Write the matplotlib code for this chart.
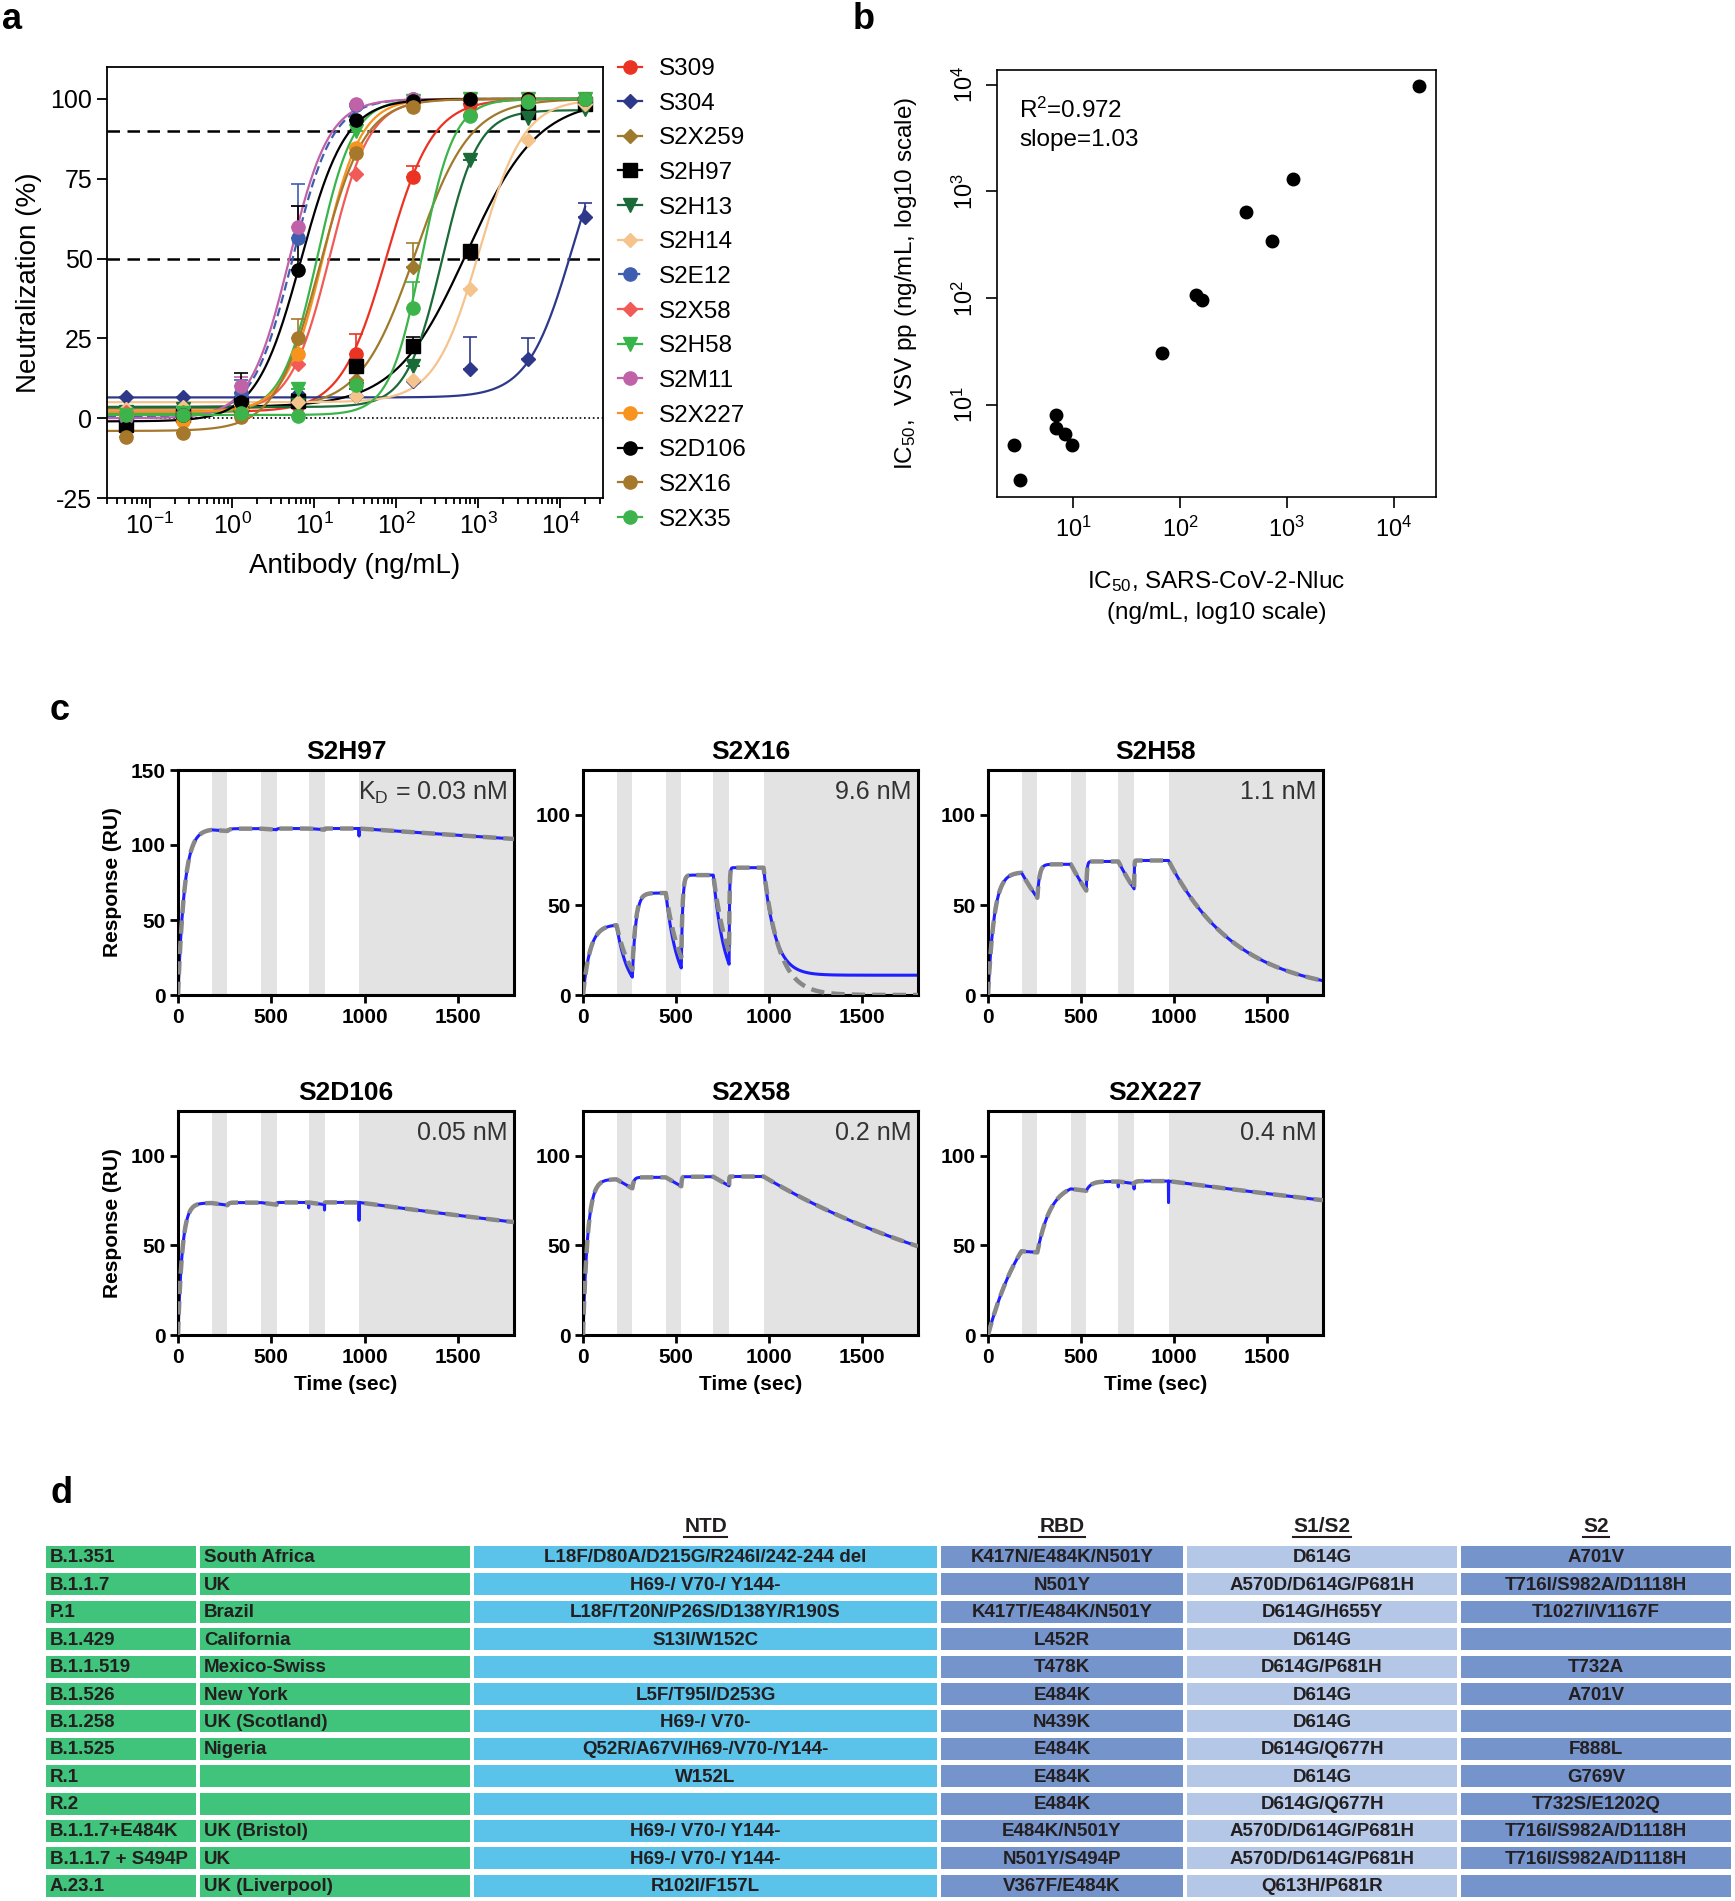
import numpy as np
import matplotlib.pyplot as plt
from matplotlib.lines import Line2D
from matplotlib.patches import Rectangle

plt.rcParams['font.family'] = ['Liberation Sans', 'DejaVu Sans']
plt.rcParams['mathtext.default'] = 'regular'
plt.rcParams['axes.unicode_minus'] = False

W, H = 1735, 1901

# ---------------- panel a: neutralization curves ----------------
conc = [0.0512, 0.256, 1.28, 6.4, 32, 160, 800, 4000, 20000]

s309 = [1.5, 2.0, 2.0, 4.0, 20.0, 75.5, 98.5, 99.5, 100.0]
s304 = [6.5, 6.5, 6.5, 7.5, 7.0, 11.5, 15.5, 18.5, 63.0]
s2x259 = [2.0, 2.5, 3.0, 4.0, 12.0, 47.5, 95.0, 99.0, 99.5]
s2h97 = [-2.0, 1.0, 4.0, 5.5, 16.5, 22.5, 52.5, 96.0, 98.5]
s2h13 = [2.0, 3.0, 3.0, 4.0, 9.0, 16.5, 81.0, 94.0, 97.0]
s2h14 = [3.0, 3.5, 4.0, 5.0, 7.0, 12.0, 40.5, 87.0, 98.5]
s2e12 = [0.0, 1.0, 8.0, 56.5, 98.0, 100.0, 100.0, 100.0, 100.0]
s2x58 = [2.0, 2.0, 3.0, 17.0, 76.5, 99.0, 100.0, 100.0, 100.0]
s2h58 = [1.0, 1.5, 3.0, 9.0, 90.0, 99.5, 100.0, 100.0, 100.0]
s2m11 = [0.5, 1.0, 10.0, 60.0, 98.5, 100.0, 100.0, 100.0, 100.0]
s2x227 = [1.0, -1.0, 3.0, 20.0, 84.5, 98.5, 100.0, 100.0, 100.0]
s2d106 = [-3.0, 1.0, 5.0, 46.5, 93.5, 99.5, 100.0, 100.0, 100.0]
s2x16 = [-6.0, -4.5, 0.5, 25.0, 83.0, 97.5, 95.0, 99.5, 100.0]
s2x35 = [1.0, 1.0, 1.5, 0.8, 10.5, 34.5, 94.5, 99.0, 100.0]

# upper error bars (SD), 0 = not visible
err_s309 = [0, 0, 0, 0, 6.5, 3.5, 0, 0, 0]
err_s304 = [0, 0, 0, 0, 0, 0, 10, 6.5, 4.5]
err_s2x259 = [0, 0, 0, 0, 0, 7.5, 0, 0, 0]
err_s2h97 = [0, 0, 4, 0, 0, 3, 0, 0, 0]
err_s2e12 = [0, 0, 4, 17, 0, 0, 0, 0, 0]
err_s2m11 = [0, 0, 3, 6.5, 0, 0, 0, 0, 0]
err_s2d106 = [0, 0, 9, 20, 0, 0, 0, 0, 0]
err_s2x16 = [0, 0, 0, 6, 0, 0, 0, 0, 0]
err_s2x35 = [0, 0, 0, 0, 0, 8, 0, 0, 0]
no_err = [0] * 9

ab_names = ['S309', 'S304', 'S2X259', 'S2H97', 'S2H13', 'S2H14', 'S2E12', 'S2X58',
            'S2H58', 'S2M11', 'S2X227', 'S2D106', 'S2X16', 'S2X35']
ab_values = [s309, s304, s2x259, s2h97, s2h13, s2h14, s2e12, s2x58,
             s2h58, s2m11, s2x227, s2d106, s2x16, s2x35]
ab_errors = [err_s309, err_s304, err_s2x259, err_s2h97, no_err, no_err, err_s2e12, no_err,
             no_err, err_s2m11, no_err, err_s2d106, err_s2x16, err_s2x35]
ab_colors = ['#ea3323', '#2d388a', '#a07a2c', '#000000', '#1a6b38', '#f5c38c', '#3f5eb0', '#f15a57',
             '#38b54a', '#c062a8', '#f7931e', '#000000', '#a6782c', '#3cb44b']
ab_markers = ['o', 'D', 'D', 's', 'v', 'D', 'o', 'D', 'v', 'o', 'o', 'o', 'o', 'o']

# 4-parameter fits
fit_bottom = [2, 6.5, 3, 3.5, 3.5, 5, 0.5, 2, 1.5, 0, 2, -1, -4, 1]
fit_top = [100, 100, 100, 100, 96.5, 100, 100, 100, 100, 100, 100, 100, 100, 100]
fit_ic50 = [77, 14000, 170, 720, 365, 1030, 5.5, 15.6, 11, 5.0, 13, 6.9, 11.8, 205]
fit_hill = [1.55, 1.6, 1.3, 1.0, 2.0, 1.6, 1.8, 1.8, 2.0, 1.8, 1.9, 1.6, 1.6, 2.2]

# ---------------- panel b: IC50 correlation ----------------
ic50_nluc = [17300, 1140, 411, 731, 141, 160, 67.6, 6.8, 6.8, 8.3, 9.7, 2.77, 3.16]
ic50_vsv = [9750, 1300, 641, 342, 108, 97, 30.8, 8.1, 6.1, 5.3, 4.2, 4.2, 1.97]

# ---------------- panel c: SPR single-cycle kinetics ----------------
spr_names = ['S2H97', 'S2X16', 'S2H58', 'S2D106', 'S2X58', 'S2X227']
spr_labels = ['K$_D$ = 0.03 nM', '9.6 nM', '1.1 nM', '0.05 nM', '0.2 nM', '0.4 nM']
spr_kd_nM = [0.03, 9.6, 1.1, 0.05, 0.2, 0.4]
spr_koff = [7.8e-5, 0.012, 0.0027, 1.94e-4, 7.0e-4, 1.6e-4]
spr_rmax = [111, 73, 75, 74, 88.5, 86]
spr_ymax = [150, 125, 125, 125, 125, 125]
spr_koff_obs = [7.8e-5, 0.016, 0.0027, 1.94e-4, 7.0e-4, 1.6e-4]
spr_floor_obs = [0, 11, 0, 0, 0, 0]
spike_t = [[970], [], [], [700, 785, 970], [], [700, 785, 970]]
spike_d = [[5], [], [], [3, 3, 10], [], [3, 3, 12]]
inject_conc_nM = [11.1, 33.3, 100, 300]
inject_on = [0, 265, 528, 785]
inject_off = [180, 445, 700, 970]
run_end = 1800

# ---------------- panel d: variant table ----------------
lineages = ['B.1.351', 'B.1.1.7', 'P.1', 'B.1.429', 'B.1.1.519', 'B.1.526', 'B.1.258',
            'B.1.525', 'R.1', 'R.2', 'B.1.1.7+E484K', 'B.1.1.7 + S494P', 'A.23.1']
countries = ['South Africa', 'UK', 'Brazil', 'California', 'Mexico-Swiss', 'New York',
             'UK (Scotland)', 'Nigeria', '', '', 'UK (Bristol)', 'UK', 'UK (Liverpool)']
ntd = ['L18F/D80A/D215G/R246I/242-244 del', 'H69-/ V70-/ Y144-', 'L18F/T20N/P26S/D138Y/R190S',
       'S13I/W152C', '', 'L5F/T95I/D253G', 'H69-/ V70-', 'Q52R/A67V/H69-/V70-/Y144-', 'W152L',
       '', 'H69-/ V70-/ Y144-', 'H69-/ V70-/ Y144-', 'R102I/F157L']
rbd = ['K417N/E484K/N501Y', 'N501Y', 'K417T/E484K/N501Y', 'L452R', 'T478K', 'E484K', 'N439K',
       'E484K', 'E484K', 'E484K', 'E484K/N501Y', 'N501Y/S494P', 'V367F/E484K']
s1s2 = ['D614G', 'A570D/D614G/P681H', 'D614G/H655Y', 'D614G', 'D614G/P681H', 'D614G', 'D614G',
        'D614G/Q677H', 'D614G', 'D614G/Q677H', 'A570D/D614G/P681H', 'A570D/D614G/P681H',
        'Q613H/P681R']
s2 = ['A701V', 'T716I/S982A/D1118H', 'T1027I/V1167F', '', 'T732A', 'A701V', '', 'F888L',
      'G769V', 'T732S/E1202Q', 'T716I/S982A/D1118H', 'T716I/S982A/D1118H', '']
region_headers = ['NTD', 'RBD', 'S1/S2', 'S2']


def box(l, t, r, b):
    return [l / W, 1 - b / H, (r - l) / W, (b - t) / H]


def sensorgram(t, ka, kd, rmax, kd_diss=None, floor=0.0):
    # 1:1 binding, single-cycle injections
    kd_diss = kd if kd_diss is None else kd_diss
    r = np.zeros_like(t)
    level = 0.0
    ends = inject_on[1:] + [run_end]
    for i, (c, on, off, nxt) in enumerate(zip(inject_conc_nM, inject_on, inject_off, ends)):
        kobs = ka * c * 1e-9 + kd
        req = rmax * ka * c * 1e-9 / kobs
        m = (t >= on) & (t <= off)
        r[m] = req + (level - req) * np.exp(-kobs * (t[m] - on))
        level = req + (level - req) * np.exp(-kobs * (off - on))
        base = floor if i == len(inject_on) - 1 else 0.0
        m = (t > off) & (t <= nxt)
        r[m] = base + (level - base) * np.exp(-kd_diss * (t[m] - off))
        level = base + (level - base) * np.exp(-kd_diss * (nxt - off))
    return r


fig = plt.figure(figsize=(W / 100, H / 100), dpi=100)

# ---- a ----
ax = fig.add_axes(box(107, 67, 603, 498))
xs = np.logspace(np.log10(0.03), np.log10(20000), 400)
handles = []
for i, name in enumerate(ab_names):
    c = ab_colors[i]
    ls = (0, (4, 2)) if name == 'S2E12' else '-'
    ys = fit_bottom[i] + (fit_top[i] - fit_bottom[i]) / (1 + (fit_ic50[i] / xs) ** fit_hill[i])
    ax.plot(xs, ys, color=c, lw=1.6, ls=ls, zorder=2)
    err = np.array(ab_errors[i], dtype=float)
    ax.errorbar(conc, ab_values[i], yerr=[np.zeros(9), err], fmt='none', ecolor=c,
                elinewidth=1.2, capsize=5, capthick=1.2, zorder=2)
    ms = 7.5 if ab_markers[i] == 'D' else 9.5
    ax.plot(conc, ab_values[i], ls='none', marker=ab_markers[i], ms=ms, color=c,
            mec=c, zorder=3)
    handles.append(Line2D([0], [0], color=c, ls=ls, lw=1.6, marker=ab_markers[i], ms=ms))
ax.axhline(90, color='k', ls=(0, (5, 3)), lw=1.8, zorder=1)
ax.axhline(50, color='k', ls=(0, (5, 3)), lw=1.8, zorder=1)
ax.axhline(0, color='k', ls=':', lw=1.2, zorder=1)
ax.set_xscale('log')
ax.set_xlim(0.03, 33000)
ax.set_ylim(-25, 110)
ax.set_yticks([-25, 0, 25, 50, 75, 100])
ax.set_xticks([0.1, 1, 10, 100, 1000, 10000])
ax.tick_params(which='both', direction='out', labelsize=18, width=1.3)
ax.tick_params(which='major', length=7)
ax.tick_params(which='minor', length=4)
for s in ax.spines.values():
    s.set_linewidth(1.3)
ax.set_xlabel('Antibody (ng/mL)', fontsize=20, labelpad=10)
ax.set_ylabel('Neutralization (%)', fontsize=20, labelpad=6)
fig.legend(handles, ab_names, loc='upper left', bbox_to_anchor=(618 / W, 1 - 58 / H),
           frameon=False, fontsize=17.5, handlelength=1.0, handletextpad=0.7,
           labelspacing=0.52, borderpad=0, borderaxespad=0)

# ---- b ----
bx = fig.add_axes(box(997, 70, 1436, 497))
bx.plot(ic50_nluc, ic50_vsv, 'o', color='k', ms=9)
bx.set_xscale('log')
bx.set_yscale('log')
bx.set_xlim(1.92, 25000)
bx.set_ylim(1.37, 13700)
bx.set_xticks([10, 100, 1000, 10000])
bx.set_yticks([10, 100, 1000, 10000])
bx.minorticks_off()
bx.tick_params(direction='out', length=8, width=1.2, labelsize=17, pad=6)
plt.setp(bx.get_yticklabels(), rotation=90, va='center')
for s in bx.spines.values():
    s.set_linewidth(1.2)
bx.text(0.05, 0.935, 'R$^2$=0.972\nslope=1.03', transform=bx.transAxes, fontsize=17.5,
        va='top', ha='left', linespacing=1.35)
bx.set_xlabel('IC$_{50}$, SARS-CoV-2-Nluc\n(ng/mL, log10 scale)', fontsize=17.5, labelpad=20,
              linespacing=1.45)
bx.set_ylabel('IC$_{50}$,  VSV pp (ng/mL, log10 scale)', fontsize=17.5, labelpad=24)

# ---- c ----
t = np.arange(0, run_end + 1, 1.0)
cols = [(178, 514), (583, 918), (988, 1323)]
rows = [(770, 995), (1111, 1335)]
bands = list(zip(inject_off, inject_on[1:] + [run_end]))
for k, name in enumerate(spr_names):
    l, r = cols[k % 3]
    top, bot = rows[k // 3]
    cx = fig.add_axes(box(l, top, r, bot))
    ka = spr_koff[k] / (spr_kd_nM[k] * 1e-9)
    fit = sensorgram(t, ka, spr_koff[k], spr_rmax[k])
    obs = sensorgram(t, ka, spr_koff[k], spr_rmax[k], kd_diss=spr_koff_obs[k],
                     floor=spr_floor_obs[k])
    for st, sd in zip(spike_t[k], spike_d[k]):
        obs[int(st)] -= sd
    for a, b in bands:
        cx.axvspan(a, b, color='#e3e3e3', lw=0, zorder=0)
    cx.plot(t, obs, color='#1f1fff', lw=2.2, zorder=2)
    cx.plot(t, fit, color='#888888', lw=3.2, ls=(0, (3, 1.6)), zorder=3)
    cx.set_xlim(0, run_end)
    cx.set_ylim(0, spr_ymax[k])
    cx.set_xticks([0, 500, 1000, 1500])
    cx.set_yticks([0, 50, 100, 150] if spr_ymax[k] == 150 else [0, 50, 100])
    cx.tick_params(direction='out', length=6, width=2, labelsize=15, pad=3)
    plt.setp(cx.get_xticklabels() + cx.get_yticklabels(), fontweight='bold')
    for s in cx.spines.values():
        s.set_linewidth(2.2)
    cx.set_title(name, fontsize=19, fontweight='bold', pad=8)
    cx.text(0.98, 0.955, spr_labels[k], transform=cx.transAxes, ha='right', va='top',
            fontsize=18, color='#333333')
    if k % 3 == 0:
        cx.set_ylabel('Response (RU)', fontsize=15, fontweight='bold', labelpad=6)
    if k // 3 == 1:
        cx.set_xlabel('Time (sec)', fontsize=15, fontweight='bold', labelpad=6)

# ---- d ----
tx = fig.add_axes([0, 0, 1, 1])
tx.set_xlim(0, W)
tx.set_ylim(H, 0)
tx.axis('off')
col_edges = [(46, 196), (200, 470), (474, 937), (941, 1183), (1187, 1457), (1461, 1731)]
col_colors = ['#40c37a', '#40c37a', '#5bc2ea', '#7594cc', '#b4c7e7', '#7594cc']
table_cols = [lineages, countries, ntd, rbd, s1s2, s2]
row_top0, row_pitch, row_h = 1546, 27.4, 22
for i in range(len(lineages)):
    y0 = row_top0 + i * row_pitch
    for j, (x0, x1) in enumerate(col_edges):
        tx.add_patch(Rectangle((x0, y0), x1 - x0, row_h, color=col_colors[j], lw=0))
        txt = table_cols[j][i]
        if not txt:
            continue
        if j < 2:
            tx.text(x0 + 4, y0 + row_h / 2 + 1, txt, ha='left', va='center', fontsize=13.5,
                    fontweight='bold', color='#231f20')
        else:
            tx.text((x0 + x1) / 2, y0 + row_h / 2 + 1, txt, ha='center', va='center',
                    fontsize=13.5, fontweight='bold', color='#231f20')
renderer = fig.canvas.get_renderer()
for j, head in enumerate(region_headers):
    x0, x1 = col_edges[j + 2]
    ht = tx.text((x0 + x1) / 2, 1526, head, ha='center', va='center', fontsize=15,
                 fontweight='bold', color='#231f20')
    bb = ht.get_window_extent(renderer)
    (ux0, _), (ux1, _) = tx.transData.inverted().transform([[bb.x0, bb.y0], [bb.x1, bb.y0]])
    tx.plot([ux0, ux1], [1537, 1537], color='#231f20', lw=1.5)

# panel letters
for letter, (px, py) in {'a': (2, 29), 'b': (853, 29), 'c': (50, 720), 'd': (50, 1503)}.items():
    fig.text(px / W, 1 - py / H, letter, fontsize=26, fontweight='bold', va='baseline')

fig.savefig('out.png', dpi=100)
